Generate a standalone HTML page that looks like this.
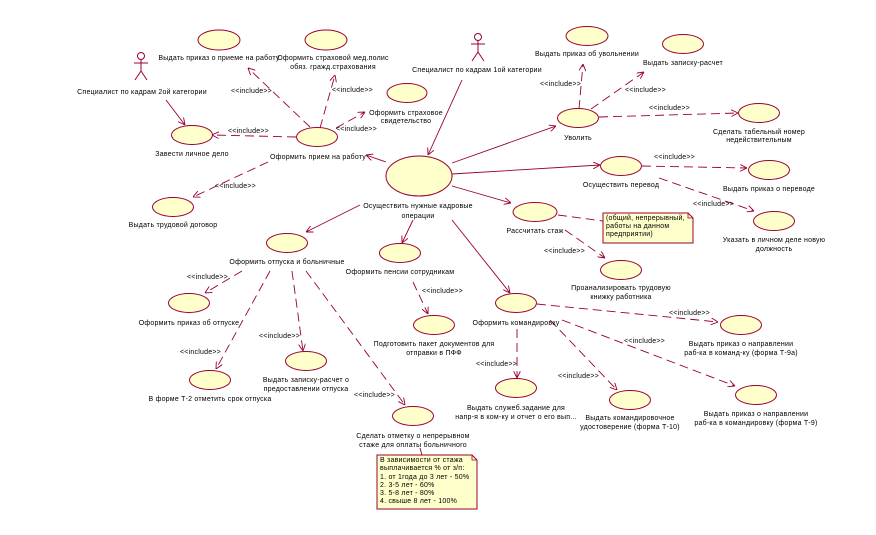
<!DOCTYPE html>
<html><head><meta charset="utf-8"><style>
html,body{margin:0;padding:0;background:#fff;}
svg{display:block;}
text{font-family:"Liberation Sans",sans-serif;font-size:7px;fill:#000;letter-spacing:0.22px;}
.e{fill:#ffffcc;stroke:#990033;stroke-width:1;}
.s{stroke:#990033;stroke-width:0.9;fill:none;marker-end:url(#a);}
.d{stroke:#990033;stroke-width:0.9;fill:none;stroke-dasharray:9,5;marker-end:url(#a);}
.n{stroke:#990033;stroke-width:0.9;fill:none;stroke-dasharray:9,5;}
.ac{stroke:#990033;stroke-width:1;fill:none;}
</style></head><body>
<svg width="876" height="535" viewBox="0 0 876 535" xmlns="http://www.w3.org/2000/svg">
<defs><marker id="a" viewBox="0 0 10 10" refX="10" refY="5" markerWidth="7" markerHeight="7" orient="auto" markerUnits="userSpaceOnUse"><path d="M0,0 L10,5 L0,10" fill="none" stroke="#990033" stroke-width="1.3"/></marker></defs>

<g class="ac"><circle cx="141" cy="56" r="3.5"/><line x1="141" y1="59.5" x2="141" y2="71"/><line x1="134" y1="63" x2="148" y2="63"/><line x1="141" y1="71" x2="135" y2="80"/><line x1="141" y1="71" x2="147" y2="80"/></g>
<text x="142" y="94" text-anchor="middle">Специалист по кадрам 2ой категории</text>
<g class="ac"><circle cx="478" cy="37" r="3.5"/><line x1="478" y1="40.5" x2="478" y2="52"/><line x1="471" y1="44" x2="485" y2="44"/><line x1="478" y1="52" x2="472" y2="61"/><line x1="478" y1="52" x2="484" y2="61"/></g>
<text x="477" y="72" text-anchor="middle">Специалист по кадрам 1ой категории</text>

<line class="s" x1="166" y1="100" x2="185" y2="125"/>
<line class="s" x1="462" y1="80" x2="428" y2="155"/>
<line class="s" x1="386" y1="162" x2="366" y2="155"/>
<line class="s" x1="452" y1="163" x2="556" y2="126"/>
<line class="s" x1="452" y1="174" x2="600" y2="165"/>
<line class="s" x1="452" y1="186" x2="511" y2="203"/>
<line class="s" x1="360" y1="205" x2="306" y2="232"/>
<line class="s" x1="413" y1="220" x2="402" y2="243"/>
<line class="s" x1="452" y1="220" x2="510" y2="293"/>

<line class="d" x1="310" y1="127" x2="248" y2="68"/><text x="231" y="93">&lt;&lt;include&gt;&gt;</text>
<line class="d" x1="320" y1="128" x2="335" y2="75"/><text x="332" y="92">&lt;&lt;include&gt;&gt;</text>
<line class="d" x1="336" y1="128" x2="365" y2="112"/><text x="336" y="131">&lt;&lt;include&gt;&gt;</text>
<line class="d" x1="296" y1="137" x2="212" y2="135"/><text x="228" y="133">&lt;&lt;include&gt;&gt;</text>
<line class="d" x1="268" y1="162" x2="193" y2="197"/><text x="215" y="188">&lt;&lt;include&gt;&gt;</text>

<line class="d" x1="579" y1="109" x2="583" y2="64"/><text x="540" y="86">&lt;&lt;include&gt;&gt;</text>
<line class="d" x1="591" y1="109" x2="644" y2="72"/><text x="625" y="92">&lt;&lt;include&gt;&gt;</text>
<line class="d" x1="599" y1="117" x2="738" y2="113"/><text x="649" y="110">&lt;&lt;include&gt;&gt;</text>
<line class="d" x1="642" y1="166" x2="747" y2="168"/><text x="654" y="159">&lt;&lt;include&gt;&gt;</text>
<line class="d" x1="659" y1="178" x2="754" y2="211"/><text x="693" y="206">&lt;&lt;include&gt;&gt;</text>
<line class="n" x1="558" y1="215" x2="603" y2="221"/>
<line class="d" x1="565" y1="230" x2="605" y2="258"/><text x="544" y="253">&lt;&lt;include&gt;&gt;</text>

<line class="d" x1="242" y1="271" x2="205" y2="293"/><text x="187" y="279">&lt;&lt;include&gt;&gt;</text>
<line class="d" x1="270" y1="271" x2="216" y2="369"/><text x="180" y="354">&lt;&lt;include&gt;&gt;</text>
<line class="d" x1="292" y1="271" x2="303" y2="351"/><text x="259" y="338">&lt;&lt;include&gt;&gt;</text>
<line class="d" x1="306" y1="271" x2="405" y2="405"/><text x="354" y="397">&lt;&lt;include&gt;&gt;</text>
<line class="n" x1="420" y1="448" x2="422" y2="455"/>
<line class="d" x1="413" y1="282" x2="428" y2="314"/><text x="422" y="293">&lt;&lt;include&gt;&gt;</text>

<line class="d" x1="537" y1="304" x2="718" y2="322"/><text x="669" y="315">&lt;&lt;include&gt;&gt;</text>
<line class="d" x1="517" y1="329" x2="517" y2="378"/><text x="476" y="366">&lt;&lt;include&gt;&gt;</text>
<line class="d" x1="550" y1="320" x2="617" y2="390"/><text x="558" y="378">&lt;&lt;include&gt;&gt;</text>
<line class="d" x1="562" y1="320" x2="735" y2="386"/><text x="624" y="343">&lt;&lt;include&gt;&gt;</text>

<ellipse class="e" cx="219" cy="40" rx="21" ry="10"/><text x="219" y="60" text-anchor="middle">Выдать приказ о приеме на работу</text>
<ellipse class="e" cx="326" cy="40" rx="21" ry="10"/><text x="333" y="60" text-anchor="middle">Оформить страховой мед.полис</text><text x="333" y="69" text-anchor="middle">обяз. гражд.страхования</text>
<ellipse class="e" cx="407" cy="93" rx="20" ry="9.5"/><text x="406" y="115" text-anchor="middle">Оформить страховое</text><text x="406" y="123" text-anchor="middle">свидетельство</text>
<ellipse class="e" cx="192" cy="135" rx="20.5" ry="9.5"/><text x="192" y="156" text-anchor="middle">Завести личное дело</text>
<ellipse class="e" cx="317" cy="137" rx="20.5" ry="9.5"/><text x="318" y="159" text-anchor="middle">Оформить прием на работу</text>
<ellipse class="e" cx="173" cy="207" rx="20.5" ry="9.5"/><text x="173" y="227" text-anchor="middle">Выдать трудовой договор</text>
<ellipse class="e" cx="419" cy="176" rx="33" ry="20"/><text x="418" y="208" text-anchor="middle">Осуществить нужные кадровые</text><text x="418" y="218" text-anchor="middle">операции</text>
<ellipse class="e" cx="587" cy="36" rx="21" ry="9.5"/><text x="587" y="56" text-anchor="middle">Выдать приказ об увольнении</text>
<ellipse class="e" cx="683" cy="44" rx="20.5" ry="9.5"/><text x="683" y="65" text-anchor="middle">Выдать записку-расчет</text>
<ellipse class="e" cx="578" cy="118" rx="20.5" ry="9.5"/><text x="578" y="140" text-anchor="middle">Уволить</text>
<ellipse class="e" cx="759" cy="113" rx="20.5" ry="9.5"/><text x="759" y="134" text-anchor="middle">Сделать табельный номер</text><text x="759" y="142" text-anchor="middle">недействительным</text>
<ellipse class="e" cx="621" cy="166" rx="20.5" ry="9.5"/><text x="621" y="187" text-anchor="middle">Осуществить перевод</text>
<ellipse class="e" cx="769" cy="170" rx="20.5" ry="9.5"/><text x="769" y="191" text-anchor="middle">Выдать приказ о переводе</text>
<ellipse class="e" cx="774" cy="221" rx="20.5" ry="9.5"/><text x="774" y="242" text-anchor="middle">Указать в личном деле новую</text><text x="774" y="251" text-anchor="middle">должность</text>
<ellipse class="e" cx="535" cy="212" rx="22" ry="9.5"/><text x="535" y="233" text-anchor="middle">Рассчитать стаж</text>
<ellipse class="e" cx="621" cy="270" rx="20.5" ry="9.5"/><text x="621" y="290" text-anchor="middle">Проанализировать трудовую</text><text x="621" y="299" text-anchor="middle">книжку работника</text>
<ellipse class="e" cx="287" cy="243" rx="20.5" ry="9.5"/><text x="287" y="264" text-anchor="middle">Оформить отпуска и больничные</text>
<ellipse class="e" cx="400" cy="253" rx="20.5" ry="9.5"/><text x="400" y="274" text-anchor="middle">Оформить пенсии сотрудникам</text>
<ellipse class="e" cx="189" cy="303" rx="20.5" ry="9.5"/><text x="189" y="325" text-anchor="middle">Оформить приказ об отпуске</text>
<ellipse class="e" cx="434" cy="325" rx="20.5" ry="9.5"/><text x="434" y="346" text-anchor="middle">Подготовить пакет документов для</text><text x="434" y="355" text-anchor="middle">отправки в ПФФ</text>
<ellipse class="e" cx="210" cy="380" rx="20.5" ry="9.5"/><text x="210" y="401" text-anchor="middle">В форме Т-2 отметить срок отпуска</text>
<ellipse class="e" cx="306" cy="361" rx="20.5" ry="9.5"/><text x="306" y="382" text-anchor="middle">Выдать записку-расчет о</text><text x="306" y="391" text-anchor="middle">предоставлении отпуска</text>
<ellipse class="e" cx="413" cy="416" rx="20.5" ry="9.5"/><text x="413" y="438" text-anchor="middle">Сделать отметку о непрерывном</text><text x="413" y="447" text-anchor="middle">стаже для оплаты больничного</text>
<ellipse class="e" cx="516" cy="303" rx="20.5" ry="9.5"/><text x="516" y="325" text-anchor="middle">Оформить командировку</text>
<ellipse class="e" cx="741" cy="325" rx="20.5" ry="9.5"/><text x="741" y="346" text-anchor="middle">Выдать приказ о направлении</text><text x="741" y="355" text-anchor="middle">раб-ка в команд-ку (форма Т-9а)</text>
<ellipse class="e" cx="516" cy="388" rx="20.5" ry="9.5"/><text x="516" y="410" text-anchor="middle">Выдать служеб.задание для</text><text x="516" y="419" text-anchor="middle">напр-я в ком-ку и отчет о его вып...</text>
<ellipse class="e" cx="630" cy="400" rx="20.5" ry="9.5"/><text x="630" y="420" text-anchor="middle">Выдать командировочное</text><text x="630" y="429" text-anchor="middle">удостоверение (форма Т-10)</text>
<ellipse class="e" cx="756" cy="395" rx="20.5" ry="9.5"/><text x="756" y="416" text-anchor="middle">Выдать приказ о направлении</text><text x="756" y="425" text-anchor="middle">раб-ка в командировку (форма  Т-9)</text>

<path d="M603,213 L688,213 L693,218 L693,243 L603,243 Z" fill="#ffffcc" stroke="#990033" stroke-width="1"/>
<path d="M688,213 L688,218 L693,218" fill="none" stroke="#990033" stroke-width="0.8"/>
<text x="606" y="220">(общий, непрерывный,</text><text x="606" y="228">работы на данном</text><text x="606" y="236">предприятии)</text>
<path d="M377,455 L472,455 L477,460 L477,509 L377,509 Z" fill="#ffffcc" stroke="#990033" stroke-width="1"/>
<path d="M472,455 L472,460 L477,460" fill="none" stroke="#990033" stroke-width="0.8"/>
<text x="380" y="462">В зависимости от стажа</text><text x="380" y="470">выплачивается % от з/п:</text><text x="380" y="479">1. от 1года до 3 лет - 50%</text><text x="380" y="487">2. 3-5 лет - 60%</text><text x="380" y="495">3. 5-8 лет - 80%</text><text x="380" y="503">4. свыше 8 лет - 100%</text>
</svg>
</body></html>
